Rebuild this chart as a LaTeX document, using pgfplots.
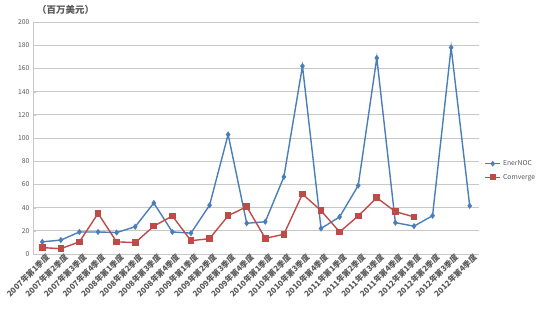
\documentclass[border=0pt]{standalone}
\usepackage{pgfplots}
\pgfplotsset{compat=1.18}
\usepackage{fontspec}
\setmainfont{Noto Sans CJK SC}
\definecolor{ebl}{HTML}{4A7EBB}
\definecolor{cred}{HTML}{BE4B48}
\definecolor{grd}{HTML}{C8C8C8}
\definecolor{txt}{HTML}{595959}
\begin{document}
\begin{tikzpicture}[x=1bp,y=1bp]
\path[use as bounding box] (-33bp,-57bp) rectangle (517bp,254bp);
\begin{axis}[
  scale only axis, width=446bp, height=232bp,
  at={(0,0)}, anchor=south west,
  xmin=-0.5, xmax=23.5, ymin=0, ymax=200,
  ytick={0,20,...,200},
  xtick={0,...,23},
  xticklabels={2007年第1季度,2007年第2季度,2007年第3季度,2007年第4季度,2008年第1季度,2008年第2季度,2008年第3季度,2008年第4季度,2009年第1季度,2009年第2季度,2009年第3季度,2009年第4季度,2010年第1季度,2010年第2季度,2010年第3季度,2010年第4季度,2011年第1季度,2011年第2季度,2011年第3季度,2011年第4季度,2012年第1季度,2012年第2季度,2012年第3季度,2012年第4季度},
  x tick label style={rotate=45, anchor=north east, font=\fontsize{8}{8}\selectfont\bfseries, text=txt, inner sep=1pt, xshift=4bp},
  y tick label style={font=\fontsize{6.8}{7}\selectfont, text=txt},
  /pgf/number format/assume math mode=true,
  ymajorgrids, grid style={grd, line width=0.9bp},
  axis x line*=bottom, axis y line*=left,
  axis line style={grd, line width=0.9bp},
  major tick length=3bp,
  extra x ticks={-0.5,0.5,...,23.5}, extra x tick labels={},
  extra x tick style={grid=none, major tick style={grd}},
  xtick style={draw=none}, ytick style={grd},
  legend style={draw=none, fill=none, at={(1.005,0.36)}, anchor=west, font=\fontsize{6.8}{7}\selectfont, text=txt, row sep=3bp},
  legend cell align=left,
  legend image post style={scale=0.9},
]
\addplot[ebl, line width=1.4bp, mark=diamond*, mark size=2bp] coordinates {
(0,10.5)(1,12)(2,19)(3,19)(4,18.5)(5,23.5)(6,44)(7,19)(8,18)(9,42)(10,103)(11,26.5)
(12,27.8)(13,66.5)(14,162)(15,22)(16,32)(17,59)(18,169)(19,27)(20,24)(21,33)(22,178)(23,41.5)};
\addlegendentry{EnerNOC}
\addplot[cred, line width=1.4bp, mark=square*, mark size=2.6bp] coordinates {
(0,5.5)(1,4.6)(2,10.5)(3,35)(4,10.5)(5,9.8)(6,24)(7,32.8)(8,11.5)(9,13.2)(10,33)(11,40.8)
(12,13.5)(13,17)(14,51.7)(15,37.4)(16,19)(17,32.8)(18,48.5)(19,36.5)(20,32)};
\addlegendentry{Comverge}
\end{axis}
\node[anchor=west, font=\fontsize{9.5}{10}\selectfont\bfseries, text=txt, inner sep=0pt] at (4bp,244bp) {（百万美元）};
\end{tikzpicture}
\end{document}
